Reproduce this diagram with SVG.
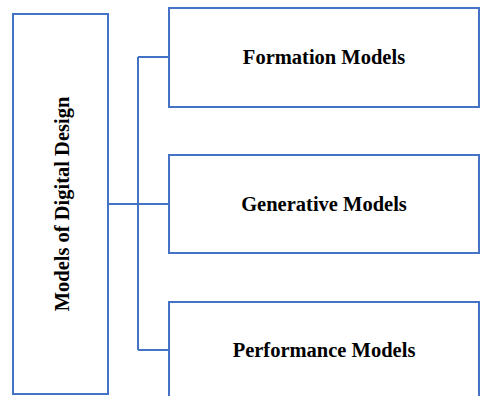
<svg xmlns="http://www.w3.org/2000/svg" width="481" height="396" viewBox="0 0 481 396">
  <style>
    .box { fill: #ffffff; stroke: #4472C4; stroke-width: 2; }
    .wire { fill: none; stroke: #4472C4; stroke-width: 2; }
    .label { font-family: "Liberation Serif", "Times New Roman", serif; font-weight: bold; font-size: 20.5px; fill: #000000; text-anchor: middle; dominant-baseline: central; }
  </style>
  <rect width="481" height="396" fill="#ffffff"/>
  <g id="connectors">
    <path class="wire" d="M108,204 H138 M138,57 V350 M138,57 H169 M138,204 H169 M138,350 H169"/>
  </g>
  <g id="root">
    <rect class="box" x="13" y="14" width="95" height="380"/>
    <text class="label" transform="translate(62,204) rotate(-90)">Models of Digital Design</text>
  </g>
  <g id="formation">
    <rect class="box" x="169" y="8" width="310" height="99"/>
    <text class="label" x="324" y="57">Formation Models</text>
  </g>
  <g id="generative">
    <rect class="box" x="169" y="155" width="310" height="98"/>
    <text class="label" x="324" y="204">Generative Models</text>
  </g>
  <g id="performance">
    <rect class="box" x="169" y="302" width="310" height="100"/>
    <text class="label" x="324" y="350">Performance Models</text>
  </g>
</svg>
